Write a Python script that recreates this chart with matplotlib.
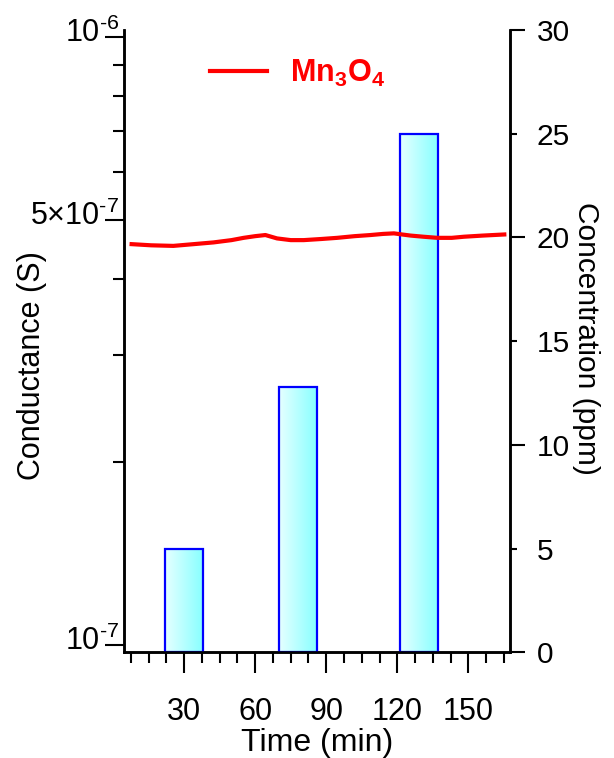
import numpy as np
import matplotlib
matplotlib.use("Agg")
import matplotlib.pyplot as plt
from matplotlib.colors import LinearSegmentedColormap
from matplotlib.ticker import FixedLocator, NullFormatter
from matplotlib.transforms import ScaledTranslation

plt.rcParams['font.family'] = ['Liberation Sans', 'DejaVu Sans']
plt.rcParams['mathtext.fontset'] = 'custom'
plt.rcParams['mathtext.rm'] = 'Liberation Sans'
plt.rcParams['mathtext.it'] = 'Liberation Sans:italic'
plt.rcParams['mathtext.bf'] = 'Liberation Sans:bold'

# conductance trace (Mn3O4)
time_min = [7.8, 16, 25.4, 34, 42.4, 50, 55.1, 60, 64.3, 69.2, 75, 80.5, 88, 94.6,
            102, 108.7, 114, 118.6, 122, 125.7, 131, 137, 143, 148.2, 156, 165.2]
conductance = [4.56e-7, 4.54e-7, 4.53e-7, 4.56e-7, 4.59e-7, 4.63e-7, 4.67e-7, 4.70e-7,
               4.72e-7, 4.66e-7, 4.63e-7, 4.63e-7, 4.65e-7, 4.67e-7,
               4.70e-7, 4.72e-7, 4.74e-7, 4.75e-7, 4.73e-7, 4.71e-7, 4.69e-7, 4.67e-7,
               4.67e-7, 4.69e-7, 4.71e-7, 4.73e-7]

# gas pulses
bar_start = [22, 70, 121]
bar_width = 16
bar_conc = [5, 12.8, 25]

left_ticks = [1e-7, 5e-7, 1e-6]
left_labels = [r'10$^{\text{-}7}$', r'5×10$^{\text{-}7}$', r'10$^{\text{-}6}$']

fig = plt.figure(figsize=(6.14, 7.58), dpi=100)
ax = fig.add_axes([0.2024, 0.1395, 0.6282, 0.8209])
ax2 = ax.twinx()

# left axis: log conductance
ax.set_yscale('log')
ax.set_ylim(10 ** -7.012, 10 ** -5.989)
ax.set_xlim(4.7, 167.6)
ax.plot(time_min, conductance, color='#ff0000', lw=3, label=r'Mn$_\mathbf{3}$O$_\mathbf{4}$', zorder=5)

ax.yaxis.set_major_locator(FixedLocator(left_ticks))
ax.set_yticklabels(left_labels)
ax.yaxis.set_minor_locator(FixedLocator([k * 1e-7 for k in [2, 3, 4, 6, 7, 8, 9]]))
ax.yaxis.set_minor_formatter(NullFormatter())
ax.tick_params(axis='y', which='major', length=14, width=1.5, labelsize=22, pad=1)
ax.tick_params(axis='y', which='minor', length=8, width=1.5)
# labels sit over the tick ends, a bit above
shift = ScaledTranslation(0.16, 0.07, fig.dpi_scale_trans)
for lab in ax.get_yticklabels():
    lab.set_transform(lab.get_transform() + shift)

ax.set_xticks([30, 60, 90, 120, 150])
ax.xaxis.set_minor_locator(FixedLocator(np.arange(7.5, 167, 7.5)))
ax.tick_params(axis='x', which='major', length=15, width=1.5, labelsize=22, pad=17)
ax.tick_params(axis='x', which='minor', length=8, width=1.5)
ax.set_xlabel('Time (min)', fontsize=23)
ax.xaxis.set_label_coords(0.5, -0.122)
ax.set_ylabel('Conductance (S)', fontsize=22)
ax.yaxis.set_label_coords(-0.200, 0.46)

# right axis: concentration bars with gradient fill
cmap = LinearSegmentedColormap.from_list('cy', ['#e6ffff', '#88ffff'])
grad = np.linspace(0, 1, 256).reshape(1, -1)
for x0, h in zip(bar_start, bar_conc):
    rect = ax2.bar(x0, h, width=bar_width, align='edge', facecolor='none',
                   edgecolor='#0000ff', lw=1.6, zorder=3)[0]
    im = ax2.imshow(grad, cmap=cmap, aspect='auto', extent=[x0, x0 + bar_width, 0, h],
                    zorder=2)
    im.set_clip_path(rect)
ax2.set_xlim(4.7, 167.6)
ax2.set_ylim(0, 30)
ax2.set_yticks([0, 10, 20, 30])
ax2.set_yticks([5, 15, 25], minor=True)
ax2.set_yticklabels(['0', '10', '20', '30'])
ax2.yaxis.set_minor_formatter(plt.FuncFormatter(lambda v, p: '%d' % v))
ax2.tick_params(axis='y', which='major', length=11, width=1.5, labelsize=21.5, pad=8)
ax2.tick_params(axis='y', which='minor', length=5, width=1.5, labelsize=21.5, pad=14)
ax2.set_ylabel('Concentration (ppm)', fontsize=21.5, rotation=270, va='bottom')
ax2.yaxis.set_label_coords(1.162, 0.505)

ax.set_zorder(ax2.get_zorder() + 1)
ax.patch.set_visible(False)

for a in (ax, ax2):
    a.spines['top'].set_visible(False)
    for s in ('left', 'right', 'bottom'):
        a.spines[s].set_linewidth(1.8)

leg = ax.legend(loc='upper left', bbox_to_anchor=(0.152, 1.0), frameon=False,
                fontsize=22, handlelength=1.85, handletextpad=0.75)
for t in leg.get_texts():
    t.set_color('#ff0000')
    t.set_fontweight('bold')

fig.savefig('out.png', dpi=100)
